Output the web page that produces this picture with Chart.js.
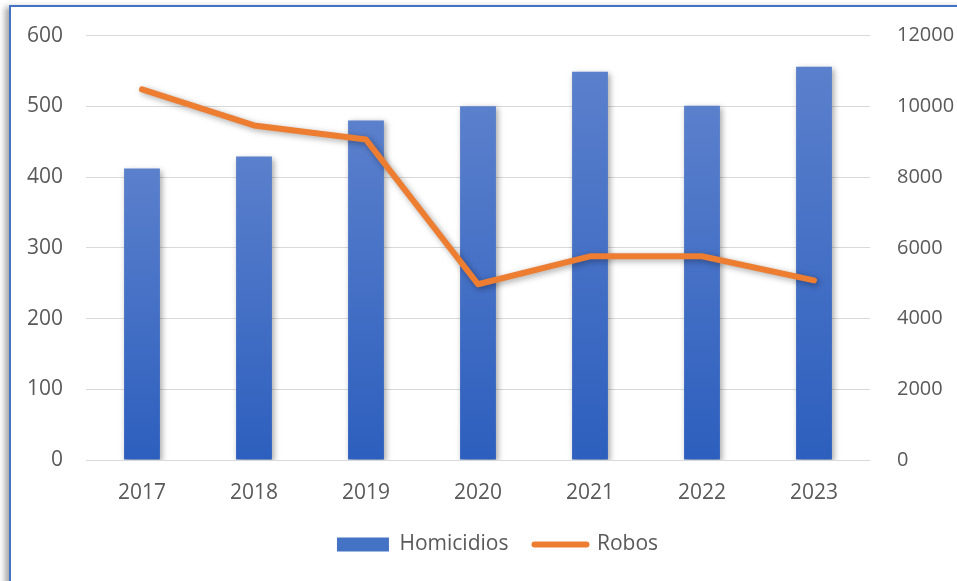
<!DOCTYPE html>
<html>
<head>
<meta charset="utf-8">
<script src="https://cdn.jsdelivr.net/npm/chart.js@4"></script>
<style>
  html, body { margin: 0; padding: 0; background: #fff; overflow: hidden; }
  #wrap { position: relative; width: 957px; height: 581px; }
  #frame {
    position: absolute; left: 9px; top: 5px; width: 1200px; height: 800px;
    border-left: 2px solid #4472C4; border-top: 2px solid #4472C4;
    box-shadow: -4px 2px 6px rgba(0, 0, 0, 0.35);
  }
  #chart { position: absolute; left: 0; top: 0; }
</style>
</head>
<body>
<div id="wrap">
  <div id="frame"></div>
  <canvas id="chart" width="957" height="581"></canvas>
</div>
<script>
const years = ["2017", "2018", "2019", "2020", "2021", "2022", "2023"];
const homicidios = [412, 429, 480, 500, 549, 501, 556];
const robos = [10480, 9460, 9060, 4970, 5760, 5760, 5080];
const leftTicks = [0, 100, 200, 300, 400, 500, 600];
const rightTicks = [0, 2000, 4000, 6000, 8000, 10000, 12000];

const textColor = "#595959";
const gridColor = "#d9d9d9";
const font = { family: "'Open Sans', sans-serif", size: 21 };

// gradient per bar, lighter on top
const barFill = (context) => {
  const chart = context.chart;
  const y = chart.scales.y;
  if (!y || context.dataIndex === undefined) return "#4472C4";
  const top = y.getPixelForValue(homicidios[context.dataIndex]);
  const bottom = y.getPixelForValue(0);
  const g = chart.ctx.createLinearGradient(0, top, 0, bottom);
  g.addColorStop(0, "#5b80cc");
  g.addColorStop(1, "#2d5fbe");
  return g;
};

// soft shadow under bars and line, like the office chart
const shadowPlugin = {
  id: "shadow",
  afterLayout(chart) {
    // legend sits a bit right of centre in the original
    chart.legend.left += 19;
    chart.legend.right += 19;
  },
  beforeDatasetDraw(chart) {
    const ctx = chart.ctx;
    ctx.save();
    ctx.shadowColor = "rgba(0, 0, 0, 0.35)";
    ctx.shadowBlur = 6;
    ctx.shadowOffsetX = 2;
    ctx.shadowOffsetY = 2;
  },
  afterDatasetDraw(chart) {
    chart.ctx.restore();
  },
};

new Chart(document.getElementById("chart"), {
  data: {
    labels: years,
    datasets: [
      {
        type: "bar",
        label: "Homicidios",
        data: homicidios,
        yAxisID: "y",
        backgroundColor: barFill,
        categoryPercentage: 1,
        barPercentage: 0.32,
        order: 1,
      },
      {
        type: "line",
        label: "Robos",
        data: robos,
        yAxisID: "y1",
        borderColor: "#ED7D31",
        borderWidth: 6,
        borderCapStyle: "round",
        borderJoinStyle: "round",
        pointRadius: 0,
        tension: 0,
        order: 0,
      },
    ],
  },
  options: {
    responsive: false,
    animation: false,
    layout: { padding: { top: 35, bottom: 16, left: 0, right: 0 } },
    plugins: {
      tooltip: { enabled: false },
      legend: {
        position: "bottom",
        labels: {
          font: font,
          color: textColor,
          usePointStyle: true,
          pointStyleWidth: 52,
          boxHeight: 14,
          padding: 26,
          generateLabels: () => [
            { text: "Homicidios", fillStyle: "#4472C4", strokeStyle: "#4472C4", lineWidth: 0, pointStyle: "rect", fontColor: textColor, datasetIndex: 0 },
            { text: "Robos", fillStyle: "#ED7D31", strokeStyle: "#ED7D31", lineWidth: 6, lineCap: "round", pointStyle: "line", fontColor: textColor, datasetIndex: 1 },
          ],
        },
      },
    },
    scales: {
      x: {
        grid: { display: false },
        border: { display: false },
        ticks: { font: font, color: textColor, padding: 12 },
        afterFit: (s) => { s.height = 48; },
      },
      y: {
        position: "left",
        min: 0,
        max: 600,
        afterBuildTicks: (s) => { s.ticks = leftTicks.map((v) => ({ value: v })); },
        grid: { color: gridColor, lineWidth: 1, drawTicks: false },
        border: { display: false },
        ticks: { font: font, color: textColor, padding: 23 },
        afterFit: (s) => { s.width = 86; },
      },
      y1: {
        position: "right",
        min: 0,
        max: 12000,
        afterBuildTicks: (s) => { s.ticks = rightTicks.map((v) => ({ value: v })); },
        grid: { display: false },
        border: { display: false },
        ticks: { font: { family: font.family, size: 20 }, color: textColor, padding: 19, callback: (v) => String(v) },
        afterFit: (s) => { s.width = 87; },
      },
    },
  },
  plugins: [shadowPlugin],
});
</script>
</body>
</html>
